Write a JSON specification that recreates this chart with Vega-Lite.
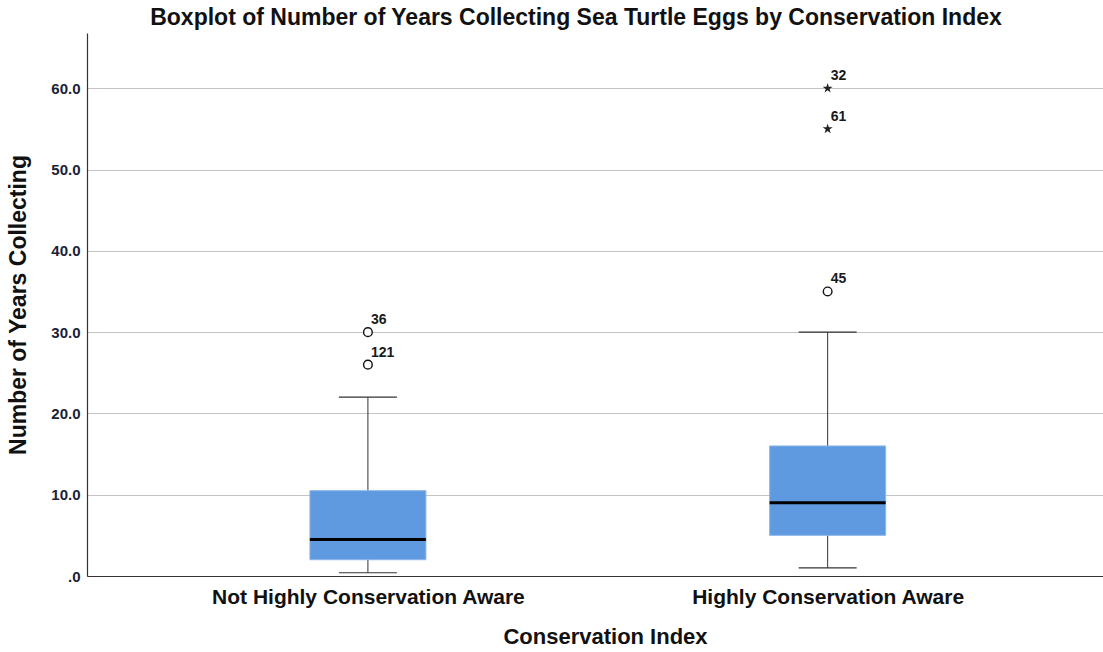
{
  "$schema": "https://vega.github.io/schema/vega-lite/v6.json",
  "width": 1016,
  "height": 543,
  "autosize": {"type": "none"},
  "padding": {"left": 87, "top": 33, "right": 0, "bottom": 76},
  "background": "white",
  "config": {
    "view": {"stroke": null},
    "font": "Liberation Sans"
  },
  "title": {
    "text": "Boxplot of Number of Years Collecting Sea Turtle Eggs by Conservation Index",
    "font": "Liberation Sans",
    "fontSize": 23,
    "fontWeight": "bold",
    "color": "#111111",
    "offset": 3,
    "dx": -19
  },
  "datasets": {
    "stats": [
      {"group": "Not Highly Conservation Aware", "lower": 0.4, "q1": 2.0, "median": 4.5, "q3": 10.5, "upper": 22.0},
      {"group": "Highly Conservation Aware", "lower": 1.0, "q1": 5.0, "median": 9.0, "q3": 16.0, "upper": 30.0}
    ],
    "outliers": [
      {"group": "Not Highly Conservation Aware", "value": 30, "id": "36", "kind": "outlier"},
      {"group": "Not Highly Conservation Aware", "value": 26, "id": "121", "kind": "outlier"},
      {"group": "Highly Conservation Aware", "value": 35, "id": "45", "kind": "outlier"},
      {"group": "Highly Conservation Aware", "value": 60, "id": "32", "kind": "extreme"},
      {"group": "Highly Conservation Aware", "value": 55, "id": "61", "kind": "extreme"}
    ]
  },
  "encoding": {
    "x": {
      "field": "group",
      "type": "nominal",
      "sort": ["Not Highly Conservation Aware", "Highly Conservation Aware"],
      "scale": {"type": "point", "padding": 0.605, "align": 0.505},
      "axis": {
        "title": "Conservation Index",
        "titleFont": "Liberation Sans",
        "titleFontSize": 22,
        "titleFontWeight": "bold",
        "titleColor": "#111111",
        "titlePadding": 19,
        "titleX": 518,
        "labelFont": "Liberation Sans",
        "labelFontSize": 21,
        "labelFontWeight": "bold",
        "labelColor": "#111111",
        "labelPadding": 10,
        "labelLimit": 0,
        "labelAngle": 0,
        "ticks": false,
        "grid": false,
        "domainColor": "#333333",
        "domainWidth": 1.2
      }
    }
  },
  "layer": [
    {
      "data": {"name": "stats"},
      "mark": {"type": "rule", "color": "#333333", "strokeWidth": 1},
      "encoding": {
        "y": {
          "field": "lower",
          "type": "quantitative",
          "scale": {"domain": [0, 66.8], "nice": false, "zero": true},
          "axis": {
            "title": "Number of Years Collecting",
            "titleFont": "Liberation Sans",
            "titleFontSize": 23,
            "titleFontWeight": "bold",
            "titleColor": "#111111",
            "titlePadding": 20,
            "labelFont": "Liberation Sans",
            "labelFontSize": 15,
            "labelFontWeight": "bold",
            "labelColor": "#1a2238",
            "labelPadding": 7,
            "ticks": false,
            "values": [0, 10, 20, 30, 40, 50, 60],
            "labelExpr": "datum.value == 0 ? '.0' : format(datum.value, '.1f')",
            "grid": true,
            "gridColor": "#c4c4c4",
            "gridWidth": 1.2,
            "domainColor": "#333333",
            "domainWidth": 1.2
          }
        },
        "y2": {"field": "upper"}
      }
    },
    {
      "data": {"name": "stats"},
      "mark": {"type": "tick", "color": "#333333", "opacity": 1, "thickness": 1.2, "size": 58, "orient": "horizontal"},
      "encoding": {"y": {"field": "upper", "type": "quantitative"}}
    },
    {
      "data": {"name": "stats"},
      "mark": {"type": "tick", "color": "#333333", "opacity": 1, "thickness": 1.2, "size": 58, "orient": "horizontal"},
      "encoding": {"y": {"field": "lower", "type": "quantitative"}}
    },
    {
      "data": {"name": "stats"},
      "mark": {"type": "bar", "size": 116, "fill": "#5f9ae0", "opacity": 1, "stroke": "#8cb6ea", "strokeWidth": 1},
      "encoding": {
        "y": {"field": "q1", "type": "quantitative"},
        "y2": {"field": "q3"}
      }
    },
    {
      "data": {"name": "stats"},
      "mark": {"type": "tick", "color": "#000000", "opacity": 1, "thickness": 3, "size": 116, "orient": "horizontal"},
      "encoding": {"y": {"field": "median", "type": "quantitative"}}
    },
    {
      "data": {"name": "outliers"},
      "transform": [{"filter": "datum.kind == 'outlier'"}],
      "mark": {"type": "point", "shape": "circle", "size": 75, "filled": false, "fill": "white", "stroke": "#111111", "strokeWidth": 1.4, "opacity": 1},
      "encoding": {"y": {"field": "value", "type": "quantitative"}}
    },
    {
      "data": {"name": "outliers"},
      "transform": [{"filter": "datum.kind == 'extreme'"}],
      "mark": {"type": "point", "shape": "M0,-1L0.2245,-0.309L0.951,-0.309L0.363,0.118L0.588,0.809L0,0.382L-0.588,0.809L-0.363,0.118L-0.951,-0.309L-0.2245,-0.309Z", "size": 110, "filled": true, "color": "#222222", "opacity": 1},
      "encoding": {"y": {"field": "value", "type": "quantitative"}}
    },
    {
      "data": {"name": "outliers"},
      "mark": {"type": "text", "align": "left", "baseline": "alphabetic", "dx": 3, "dy": -8, "font": "Liberation Sans", "fontSize": 14, "fontWeight": "bold", "color": "#1a1a1a"},
      "encoding": {
        "y": {"field": "value", "type": "quantitative"},
        "text": {"field": "id", "type": "nominal"}
      }
    }
  ]
}
